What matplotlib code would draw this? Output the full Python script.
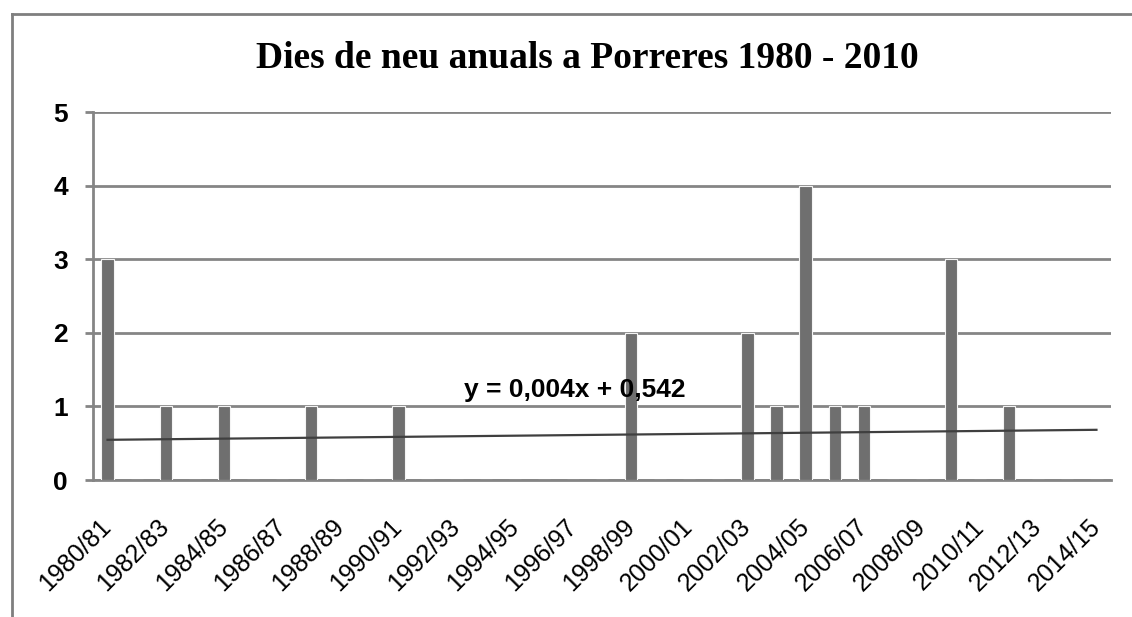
import matplotlib
matplotlib.use("Agg")
import matplotlib.pyplot as plt
import numpy as np
from matplotlib.lines import Line2D

# Data
seasons = [f"{y}/{str(y + 1)[-2:]}" for y in range(1980, 2015)]
snow_days = [3, 0, 1, 0, 1, 0, 0, 1, 0, 0, 1, 0, 0, 0, 0, 0, 0, 0, 2, 0,
             0, 0, 2, 1, 4, 1, 1, 0, 0, 3, 0, 1, 0, 0, 0]
trend_slope = 0.004
trend_intercept = 0.542
trend_label = "y = 0,004x + 0,542"
title = "Dies de neu anuals a Porreres 1980 - 2010"
y_ticks = [0, 1, 2, 3, 4, 5]

fig = plt.figure(figsize=(11.32, 6.17), dpi=100)
ax = fig.add_axes([93 / 1132, 1 - 480 / 617, (1111 - 93) / 1132, (480 - 112) / 617])

x = np.arange(len(seasons))
ax.bar(x, snow_days, width=0.42, color="#6f6f6f", edgecolor="#f4f4f4",
       linewidth=0.8, zorder=3)

# trendline (Excel-style, x counted from 1)
trend = trend_slope * (x + 1) + trend_intercept
ax.plot(x, trend, color="#3f3f3f", linewidth=1.6, zorder=4)
ax.text(16.05, 1.22, trend_label, ha="center", va="center",
        fontsize=19, fontweight="bold", family="Liberation Sans", zorder=5)

ax.set_xlim(-0.5, len(seasons) - 0.5)
ax.set_ylim(0, 5)
ax.set_yticks(y_ticks)
ax.set_yticklabels([str(t) for t in y_ticks], fontsize=19, fontweight="bold",
                   family="Liberation Sans")
ax.yaxis.grid(True, color="#858585", linewidth=2, zorder=0)
ax.set_axisbelow(True)
ax.tick_params(axis="y", length=6, width=2, color="#858585", pad=12)

ax.set_xticks(x[::2])
ax.set_xticklabels(seasons[::2], rotation=45, ha="right", va="center",
                   rotation_mode="anchor", fontsize=18, family="Liberation Sans")
ax.tick_params(axis="x", length=0, pad=31)

for s in ["top", "right"]:
    ax.spines[s].set_visible(False)
ax.spines["left"].set_color("#858585")
ax.spines["left"].set_linewidth(2)
ax.spines["bottom"].set_color("#858585")
ax.spines["bottom"].set_linewidth(2)

fig.text(587 / 1132, 1 - 58 / 617, title, ha="center", va="center",
         fontsize=27, fontweight="bold", family="Liberation Serif")

# outer frame (partially visible)
fig.add_artist(Line2D([12 / 1132, 1.0], [1 - 14 / 617, 1 - 14 / 617],
                      transform=fig.transFigure, color="#7f7f7f", linewidth=2))
fig.add_artist(Line2D([12 / 1132, 12 / 1132], [0, 1 - 14 / 617],
                      transform=fig.transFigure, color="#7f7f7f", linewidth=2))

fig.savefig("out.png", dpi=100, facecolor="white")
